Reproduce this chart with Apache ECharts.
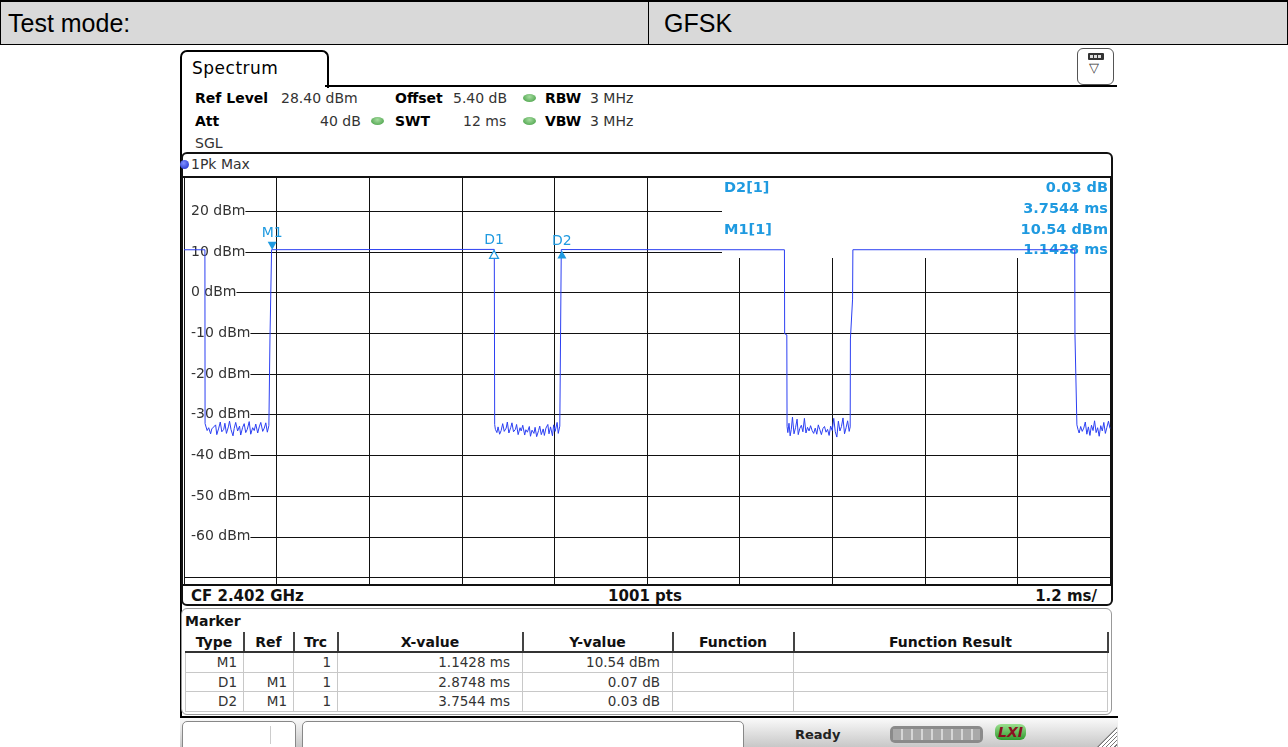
<!DOCTYPE html>
<html lang="en">
<head>
<meta charset="UTF-8">
<title>Spectrum GFSK</title>
<script src="https://cdn.jsdelivr.net/npm/echarts@6.0.0/dist/echarts.min.js"></script>
<style>
    body { margin: 0; width: 1288px; height: 747px; overflow: hidden; background: #fff; position: relative;
           font-family: "DejaVu Sans", sans-serif; color: #222; }
    .a { position: absolute; white-space: nowrap; }
    .hdr { font-family: "Liberation Sans", Arial, sans-serif; font-size: 25px; color: #000; }
    .info { font-size: 14px; line-height: 16px; color: #333; }
    .info b { color: #000; }
    .dot { position: absolute; width: 13px; height: 8px; border-radius: 50%;
           background: radial-gradient(ellipse at 50% 35%, #a6dca0, #3d9a3d); }
    .cf { font-size: 15px; font-weight: bold; line-height: 18px; color: #111; }
    #mtab { border-collapse: collapse; table-layout: fixed; font-size: 13.5px; }
    #mtab th { height: 19px; font-weight: bold; font-size: 14px; color: #111; padding: 0;
               border-right: 2px solid #444; border-bottom: 2px solid #333; text-align: center; }
    #mtab td { height: 18.5px; padding: 0 6px 0 0; text-align: right; color: #333;
               border: 1px solid #c8c8c8; }
    #chart { position: absolute; left: 0; top: 0; width: 1288px; height: 747px; z-index: 5; pointer-events: none; }
</style>
</head>
<body>
<!-- test mode row -->
<div class="a" style="left:0;top:0;width:1286px;height:42px;background:#d9d9d9;border:1px solid #000;border-top-width:2px;"></div>
<div class="a" style="left:648px;top:0;width:1px;height:45px;background:#000"></div>
<div class="a hdr" style="left:8px;top:9px">Test mode:</div>
<div class="a hdr" style="left:664px;top:9px">GFSK</div>

<!-- window frame + tab -->
<div class="a" style="left:180px;top:50px;width:145px;height:36px;border:2px solid #000;border-bottom:0;border-radius:7px 7px 0 0;background:#fff"></div>
<div class="a" style="left:192px;top:58px;font-size:17px;letter-spacing:.5px;color:#000">Spectrum</div>
<div class="a" style="left:325px;top:85px;width:792px;height:2px;background:#000"></div>
<div class="a" style="left:180px;top:86px;width:2px;height:632px;background:#000"></div>
<div class="a" style="left:1077px;top:48px;width:35px;height:35px;border:1.5px solid #555;border-radius:6px;background:#fff"></div>
<div class="a" style="left:1088px;top:53px;width:16px;height:7px;background:#333;border-radius:1px"></div>
<div class="a" style="left:1090px;top:55px;width:12px;height:3px;background:repeating-linear-gradient(90deg,#ddd 0 3px,#333 3px 4px)"></div>
<div class="a" style="left:1089px;top:60px;font-size:13px;color:#333">&#9661;</div>

<!-- settings -->
<div class="a info" style="left:195px;top:90px"><b>Ref Level</b></div>
<div class="a info" style="left:281px;top:90px">28.40 dBm</div>
<div class="a info" style="left:395px;top:90px"><b>Offset</b></div>
<div class="a info" style="left:453px;top:90px">5.40 dB</div>
<div class="dot" style="left:523px;top:94px"></div>
<div class="a info" style="left:545px;top:90px"><b>RBW</b></div>
<div class="a info" style="left:590px;top:90px">3 MHz</div>
<div class="a info" style="left:195px;top:113px"><b>Att</b></div>
<div class="a info" style="left:320px;top:113px">40 dB</div>
<div class="dot" style="left:371px;top:117px"></div>
<div class="a info" style="left:395px;top:113px"><b>SWT</b></div>
<div class="a info" style="left:463px;top:113px">12 ms</div>
<div class="dot" style="left:523px;top:117px"></div>
<div class="a info" style="left:545px;top:113px"><b>VBW</b></div>
<div class="a info" style="left:590px;top:113px">3 MHz</div>
<div class="a info" style="left:195px;top:135px">SGL</div>

<!-- diagram panel -->
<div class="a" style="left:181px;top:152px;width:928px;height:450px;border:2px solid #111;border-radius:6px;"></div>
<div class="a" style="left:180px;top:160px;width:9px;height:9px;border-radius:50%;background:radial-gradient(circle at 40% 35%,#8090ff,#1428c8)"></div>
<div class="a info" style="left:191px;top:156px">1Pk Max</div>
<div class="a" style="left:183px;top:176px;width:928px;height:2px;background:#111"></div>
<div class="a" style="left:183px;top:584px;width:928px;height:2px;background:#111"></div>
<div class="a cf" style="left:191px;top:587px">CF 2.402 GHz</div>
<div class="a cf" style="left:645px;top:587px;transform:translateX(-50%)">1001 pts</div>
<div class="a cf" style="right:191px;top:587px">1.2 ms/</div>

<!-- marker panel -->
<div class="a" style="left:181px;top:608px;width:929px;height:105px;border:1.5px solid #999;border-radius:6px;"></div>
<div class="a" style="left:185px;top:613px;font-size:14px;font-weight:bold;color:#111">Marker</div>
<table id="mtab" class="a" style="left:185px;top:632px;width:922px">
    <colgroup><col style="width:58px"><col style="width:50px"><col style="width:44px"><col style="width:185px"><col style="width:150px"><col style="width:121px"><col style="width:314px"></colgroup>
    <thead><tr><th>Type</th><th>Ref</th><th>Trc</th><th>X-value</th><th>Y-value</th><th>Function</th><th>Function Result</th></tr></thead>
    <tbody id="mbody"></tbody>
</table>

<!-- status bar -->
<div class="a" style="left:180px;top:716px;width:938px;height:31px;background:linear-gradient(#fafafa,#c4c4c4);border-top:2px solid #000"></div>
<div class="a" style="left:182px;top:721px;width:112px;height:30px;background:#fff;border:1px solid #888;border-radius:5px"></div>
<div class="a" style="left:270px;top:726px;width:1px;height:18px;background:#ccc"></div>
<div class="a" style="left:302px;top:721px;width:440px;height:30px;background:#fff;border:1px solid #888;border-radius:5px"></div>
<div class="a" style="left:795px;top:727px;font-size:13px;font-weight:bold;color:#222">Ready</div>
<div class="a" style="left:890px;top:726px;width:93px;height:17px;border-radius:5px;background:#8a8a8a"></div>
<div class="a" style="left:893px;top:729px;width:87px;height:11px;background:repeating-linear-gradient(90deg,#a9a9a9 0 8px,#d6d6d6 8px 10px)"></div>
<div class="a" style="left:995px;top:724px;padding:0 3px;border-radius:6px;background:linear-gradient(#9be08f,#2f9a2f);font:bold italic 14px 'DejaVu Sans';color:#8a1020">LXI</div>
<div class="a" style="left:1097px;top:727px;width:20px;height:20px;clip-path:polygon(100% 0,100% 100%,0 100%);background:repeating-linear-gradient(135deg,#fff 0 2px,#777 2px 3px)"></div>

<div id="chart"></div>

<script>
    // marker list (D markers are relative to M1)
    var markerNames = ['M1', 'D1', 'D2'];
    var markerRefs = ['', 'M1', 'M1'];
    var markerTrc = [1, 1, 1];
    var markerXms = [1.1428, 2.8748, 3.7544];
    var markerYval = [10.54, 0.07, 0.03];
    var markerYunit = ['dBm', 'dB', 'dB'];

    // axes
    var xGridMs = [0, 1.2, 2.4, 3.6, 4.8, 6.0, 7.2, 8.4, 9.6, 10.8, 12];
    var yGridDbm = [20, 10, 0, -10, -20, -30, -40, -50, -60, -70];
    var yLabelDbm = [20, 10, 0, -10, -20, -30, -40, -50, -60];

    // trace 1Pk Max, [ms, dBm]
    var edgeA = [[0, 10.52], [0.271, 10.52], [0.273, -32.2]];
    var noiseA = [[0.28, -32.6], [0.30, -33.9], [0.32, -33.2], [0.345, -34.7], [0.36, -33.5], [0.385, -33.8], [0.41, -32.5],
        [0.425, -34.9], [0.45, -33.3], [0.47, -31.8], [0.49, -34.2], [0.515, -33.6], [0.53, -32.1], [0.55, -34.6],
        [0.575, -33.0], [0.59, -31.6], [0.61, -33.7], [0.635, -35.2], [0.65, -33.4], [0.67, -31.9], [0.695, -34.0],
        [0.72, -32.8], [0.735, -35.0], [0.76, -33.1], [0.78, -32.2], [0.80, -34.4], [0.82, -33.6], [0.845, -31.7],
        [0.865, -34.8], [0.89, -33.2], [0.91, -33.9], [0.93, -32.3], [0.955, -34.5], [0.975, -33.0], [0.995, -31.9],
        [1.02, -34.1], [1.04, -33.3], [1.06, -32.0], [1.08, -34.3], [1.10, -32.7]];
    var edgeB = [[1.113, -32.9], [1.114, -11.4], [1.133, -11.2], [1.135, 10.54], [4.021, 10.61], [4.026, -32.4]];
    var noiseB = [[4.035, -33.6], [4.055, -34.4], [4.07, -33.0], [4.09, -34.8], [4.11, -33.9], [4.13, -32.2], [4.15, -34.1],
        [4.175, -33.3], [4.19, -31.8], [4.21, -34.5], [4.235, -33.1], [4.25, -32.0], [4.27, -34.2], [4.295, -33.6],
        [4.31, -32.4], [4.33, -34.9], [4.355, -33.2], [4.37, -34.0], [4.39, -32.6], [4.415, -35.0], [4.43, -33.7],
        [4.45, -34.3], [4.475, -32.9], [4.49, -35.3], [4.51, -33.8], [4.535, -34.6], [4.55, -33.1], [4.57, -35.4],
        [4.595, -33.9], [4.61, -32.8], [4.63, -34.9], [4.655, -33.5], [4.67, -35.1], [4.69, -33.3], [4.715, -32.4],
        [4.73, -34.7], [4.75, -33.0], [4.775, -35.2], [4.79, -32.5], [4.81, -34.1], [4.835, -31.9], [4.85, -34.6], [4.87, -32.8]];
    var edgeC = [[4.884, -32.4], [4.889, 10.57], [7.781, 10.52], [7.784, -10.1], [7.812, -10.4], [7.815, -32.9]];
    var noiseC = [[7.825, -34.4], [7.84, -32.1], [7.855, -35.2], [7.87, -33.6], [7.885, -30.6], [7.905, -34.7], [7.925, -33.2],
        [7.945, -31.1], [7.96, -34.9], [7.98, -33.4], [8.0, -32.6], [8.02, -34.2], [8.04, -30.9], [8.06, -34.5],
        [8.08, -33.1], [8.10, -34.0], [8.12, -32.7], [8.14, -33.9], [8.16, -34.6], [8.18, -33.3], [8.20, -34.8],
        [8.22, -32.5], [8.24, -33.7], [8.26, -34.9], [8.28, -33.4], [8.30, -32.9], [8.32, -34.3], [8.34, -33.6],
        [8.36, -35.1], [8.38, -32.8], [8.40, -33.9], [8.42, -30.9], [8.44, -34.2], [8.46, -35.5], [8.48, -31.6],
        [8.50, -34.0], [8.52, -32.9], [8.54, -30.8], [8.56, -34.7], [8.58, -33.2], [8.60, -31.5], [8.62, -34.1]];
    var edgeD = [[8.633, -33.0], [8.636, -11.4], [8.664, -1.6], [8.668, 10.53], [11.543, 10.53], [11.546, -10.3],
        [11.568, -10.7], [11.571, -32.5]];
    var noiseD = [[11.585, -33.6], [11.60, -34.5], [11.62, -32.9], [11.64, -34.1], [11.66, -33.3], [11.68, -31.8],
        [11.70, -34.8], [11.72, -33.0], [11.74, -35.1], [11.76, -32.6], [11.78, -33.9], [11.80, -31.5], [11.82, -34.4],
        [11.84, -33.2], [11.86, -35.3], [11.88, -32.7], [11.90, -34.0], [11.92, -31.9], [11.94, -34.6], [11.96, -33.1],
        [11.98, -31.6], [12.0, -33.4]];

    var trace = [].concat(edgeA, noiseA, edgeB, noiseB, edgeC, noiseC, edgeD, noiseD);

    var MCOL = '#1f9ae0';

    function fmtX(i) { return markerXms[i].toFixed(4) + ' ms'; }
    function fmtY(i) { return markerYval[i].toFixed(2) + ' ' + markerYunit[i]; }

    // marker table
    var rows = '';
    for (var i = 0; i < markerNames.length; i++) {
        rows += '<tr><td>' + markerNames[i] + '</td><td>' + markerRefs[i] + '</td><td>' + markerTrc[i] +
            '</td><td style="padding-right:12px">' + fmtX(i) + '</td><td style="padding-right:12px">' + fmtY(i) +
            '</td><td></td><td></td></tr>';
    }
    document.getElementById('mbody').innerHTML = rows;

    // absolute marker positions on the trace
    var markPts = [];
    for (var k = 0; k < markerNames.length; k++) {
        var ax = k === 0 ? markerXms[0] : markerXms[0] + markerXms[k];
        var ay = k === 0 ? markerYval[0] : markerYval[0] + markerYval[k];
        var isM = k === 0;
        markPts.push({
            name: markerNames[k],
            coord: [ax, ay],
            symbol: isM ? 'path://M0,0 L10,0 L5,8 Z' : 'triangle',
            symbolSize: [9, 8],
            symbolOffset: [0, isM ? -4 : 5],
            itemStyle: k === 1 ? {color: '#fff', borderColor: MCOL, borderWidth: 1.2} : {color: MCOL},
            label: {distance: isM ? 1 : 2}
        });
    }

    var bf = 'bold 14.5px "DejaVu Sans"';
    var chart = echarts.init(document.getElementById('chart'));
    chart.setOption({
        animation: false,
        backgroundColor: 'transparent',
        grid: {left: 184, top: 177, width: 926, height: 407, outerBoundsMode: 'none', show: false},
        xAxis: {
            type: 'value', min: 0, max: 12,
            axisLine: {show: false},
            axisTick: {show: false, customValues: xGridMs},
            axisLabel: {show: false},
            splitLine: {show: true, lineStyle: {color: '#111', width: 1}}
        },
        yAxis: {
            type: 'value', min: -71.6, max: 28.4,
            axisLine: {show: false},
            axisTick: {show: false, customValues: yGridDbm},
            axisLabel: {
                inside: true, customValues: yLabelDbm, margin: 1,
                formatter: '{value} dBm', color: '#333', fontSize: 14, fontFamily: 'DejaVu Sans',
                backgroundColor: '#fff', padding: [1, 0, 1, 6]
            },
            splitLine: {show: true, lineStyle: {color: '#111', width: 1}}
        },
        graphic: [
            {type: 'rect', z: 1, shape: {x: 722, y: 178, width: 388, height: 80}, style: {fill: '#fff'}},
            {type: 'text', z: 1, style: {x: 724, y: 188, text: markerNames[2] + '[1]', font: bf, fill: MCOL, textVerticalAlign: 'middle'}},
            {type: 'text', z: 1, style: {x: 1108, y: 188, text: fmtY(2), font: bf, fill: MCOL, textAlign: 'right', textVerticalAlign: 'middle'}},
            {type: 'text', z: 1, style: {x: 1108, y: 209, text: fmtX(2), font: bf, fill: MCOL, textAlign: 'right', textVerticalAlign: 'middle'}},
            {type: 'text', z: 1, style: {x: 724, y: 230, text: markerNames[0] + '[1]', font: bf, fill: MCOL, textVerticalAlign: 'middle'}},
            {type: 'text', z: 1, style: {x: 1108, y: 230, text: fmtY(0), font: bf, fill: MCOL, textAlign: 'right', textVerticalAlign: 'middle'}},
            {type: 'text', z: 1, style: {x: 1108, y: 250, text: fmtX(0), font: bf, fill: MCOL, textAlign: 'right', textVerticalAlign: 'middle'}}
        ],
        series: [{
            type: 'line',
            data: trace,
            symbol: 'none',
            lineStyle: {color: '#2b3ff2', width: 1},
            markPoint: {
                silent: true,
                animation: false,
                label: {show: true, position: 'top', formatter: '{b}', color: MCOL, fontSize: 14, fontFamily: 'DejaVu Sans'},
                data: markPts
            }
        }]
    });
</script>
</body>
</html>
